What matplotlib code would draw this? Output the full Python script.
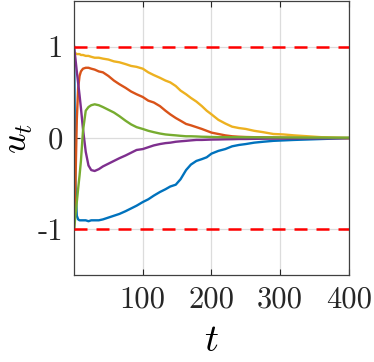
import numpy as np
import matplotlib
matplotlib.use('Agg')
import matplotlib.pyplot as plt

plt.rcParams['mathtext.fontset'] = 'cm'
plt.rcParams['axes.unicode_minus'] = False

# time samples
t = [0, 2, 4, 6, 8, 10, 13, 17, 21, 25, 30, 36, 42, 50, 58, 66, 75, 83, 91, 100,
     108, 116, 125, 133, 140, 148, 155, 163, 170, 178, 186, 193, 200, 210, 220,
     230, 240, 250, 262, 275, 290, 305, 320, 340, 360, 380, 400]

u_blue = [1.0, -0.5, -0.85, -0.89, -0.9, -0.9, -0.9, -0.9, -0.91, -0.9, -0.9, -0.9, -0.89,
          -0.87, -0.85, -0.83, -0.8, -0.77, -0.74, -0.70, -0.67, -0.63, -0.59, -0.56, -0.53,
          -0.51, -0.45, -0.35, -0.29, -0.25, -0.23, -0.21, -0.17, -0.14, -0.12, -0.09,
          -0.075, -0.065, -0.05, -0.04, -0.03, -0.025, -0.02, -0.015, -0.01, -0.005, 0.0]
u_orange = [-1.0, -0.5, 0.2, 0.55, 0.68, 0.73, 0.76, 0.77, 0.77, 0.76, 0.75, 0.73, 0.72,
            0.68, 0.63, 0.59, 0.55, 0.51, 0.48, 0.45, 0.41, 0.39, 0.35, 0.30, 0.26, 0.22,
            0.19, 0.155, 0.14, 0.12, 0.10, 0.08, 0.06, 0.045, 0.03, 0.02, 0.015, 0.012,
            0.01, 0.008, 0.006, 0.005, 0.004, 0.003, 0.002, 0.001, 0.0]
u_yellow = [0.93, 0.93, 0.92, 0.92, 0.92, 0.91, 0.91, 0.90, 0.90, 0.89, 0.88, 0.88, 0.87,
            0.86, 0.84, 0.83, 0.81, 0.79, 0.78, 0.76, 0.72, 0.69, 0.66, 0.63, 0.61, 0.57,
            0.52, 0.48, 0.44, 0.40, 0.35, 0.30, 0.26, 0.20, 0.16, 0.125, 0.11, 0.10, 0.08,
            0.065, 0.045, 0.04, 0.03, 0.02, 0.01, 0.005, 0.0]
u_purple = [1.0, 0.87, 0.73, 0.6, 0.47, 0.33, 0.1, -0.15, -0.3, -0.35, -0.36, -0.34, -0.31,
            -0.28, -0.25, -0.22, -0.19, -0.16, -0.13, -0.12, -0.10, -0.08, -0.065, -0.055,
            -0.05, -0.04, -0.035, -0.03, -0.025, -0.02, -0.02, -0.018, -0.016, -0.015,
            -0.013, -0.012, -0.01, -0.01, -0.008, -0.007, -0.006, -0.005, -0.004, -0.003,
            -0.002, -0.001, 0.0]
u_green = [-1.0, -0.85, -0.7, -0.55, -0.41, -0.25, 0.08, 0.30, 0.34, 0.36, 0.37, 0.36, 0.34,
           0.31, 0.28, 0.24, 0.19, 0.15, 0.12, 0.10, 0.08, 0.065, 0.05, 0.04, 0.035, 0.03,
           0.025, 0.02, 0.02, 0.018, 0.015, 0.014, 0.012, 0.011, 0.01, 0.01, 0.01, 0.009,
           0.009, 0.008, 0.008, 0.007, 0.007, 0.006, 0.006, 0.005, 0.005]

bounds = [1, -1]
xticks = [100, 200, 300, 400]
yticks = [-1, 0, 1]

fig = plt.figure(figsize=(3.74, 3.62), dpi=100)
ax = fig.add_axes([0.198, 0.240, 0.735, 0.757])

series = [(u_blue, '#0072BD'), (u_orange, '#D95319'), (u_yellow, '#EDB120'),
          (u_purple, '#7E2F8E'), (u_green, '#77AC30')]
for vals, c in series:
    ax.plot(t, vals, color=c, lw=1.7)

for b in bounds:
    ax.axhline(b, color='#FF0000', lw=1.8, dashes=(5.2, 3.6), zorder=6)

ax.set_xlim(0, 400)
ax.set_ylim(-1.5, 1.5)
ax.set_xticks(xticks)
ax.set_yticks(yticks)
ax.set_xticklabels([str(v) for v in xticks], fontfamily='cmr10', fontsize=22)
ax.set_yticklabels([str(v) for v in yticks], fontfamily='cmr10', fontsize=22)
ax.grid(True, color='#dcdcdc', lw=0.9)
ax.set_axisbelow(True)
ax.tick_params(direction='in', length=4, width=0.8, top=True, right=True,
               colors='#262626', pad=8)
for s in ax.spines.values():
    s.set_color('#404040')
    s.set_linewidth(0.9)

ax.set_xlabel(r'$t$', fontsize=28, labelpad=5)
ax.set_ylabel(r'$u_t$', fontsize=26, labelpad=2)

fig.savefig('out.png', dpi=100)
